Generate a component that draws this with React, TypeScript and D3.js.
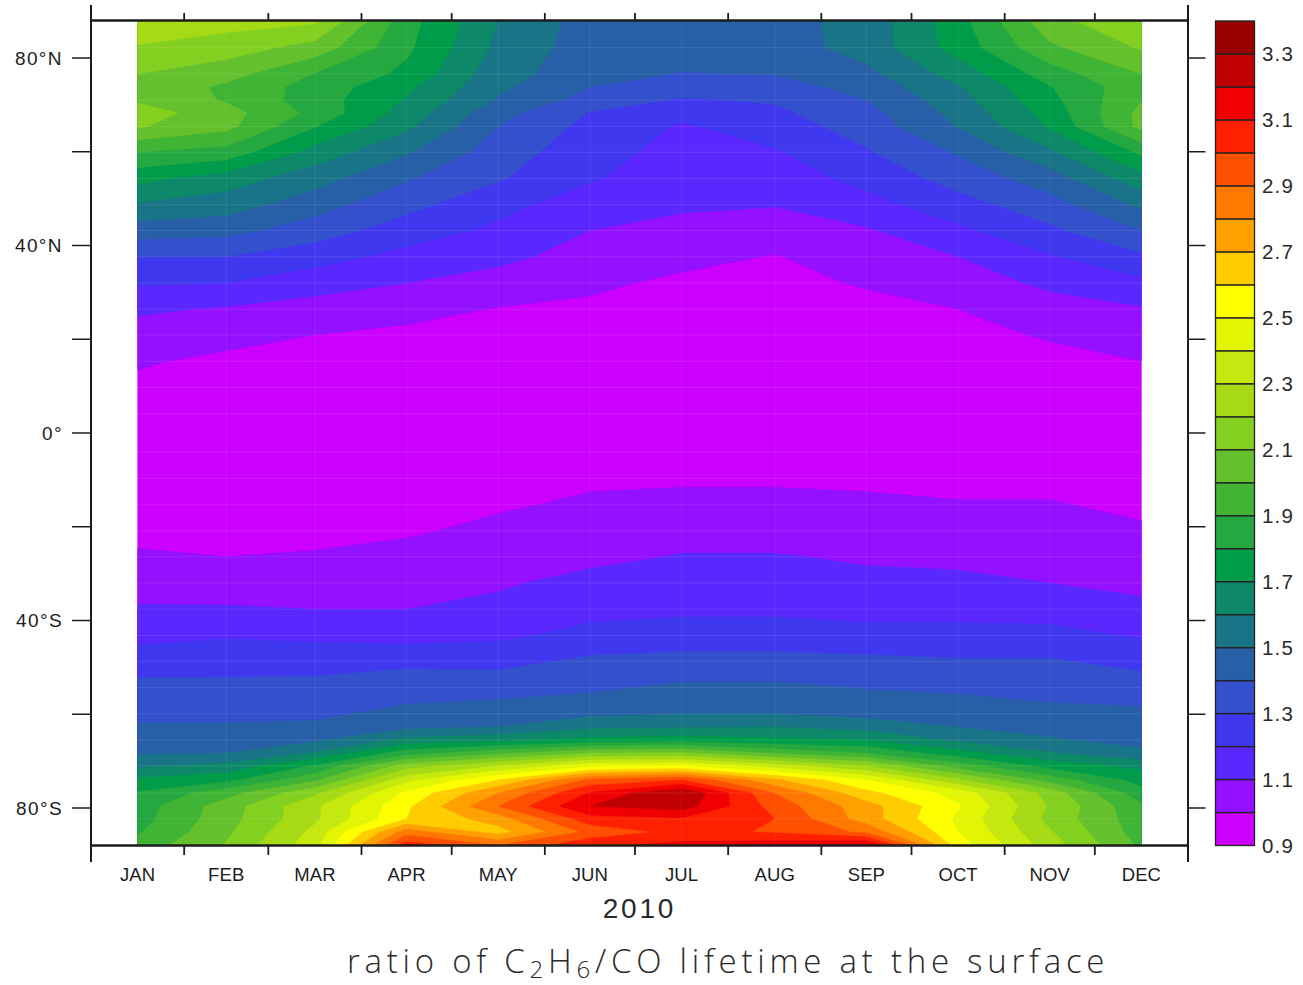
import React, { useMemo } from "react";
import * as d3 from "d3";

// Latitude rows of the model grid (degrees, north positive), top edge to bottom edge
const LATS = [88, 82.2, 76.6, 73.8, 71, 68.3, 65.4, 59.9, 54.3, 48.7, 43.2, 37.6, 32, 26.4, 20.9, 15.3, 9.7, 4.1,
  -4.1, -9.7, -15.3, -20.9, -26.4, -32, -37.6, -43.2, -48.7, -54.3, -59.9, -62.7, -65.5, -68.3, -71, -74, -76.8, -79.6, -82.3, -85.1, -88];
const GRID_LATS = [82.2, 76.6, 71, 65.4, 59.9, 54.3, 48.7, 43.2, 37.6, 32, 26.4, 20.9, 15.3, 9.7, 4.1,
  -4.1, -9.7, -15.3, -20.9, -26.4, -32, -37.6, -43.2, -48.7, -54.3, -59.9, -65.5, -71, -76.8, -82.3];

const JAN = [2.28,2.19,2.10,2.08,2.085,2.15,2.11,1.90,1.73,1.59,1.45,1.30,1.21,1.115,1.06,1.01,.98,.96,.93,.93,.95,.98,1.01,1.06,1.11,1.17,1.25,1.33,1.38,1.41,1.45,1.49,1.58,1.72,1.81,1.85,1.86,1.89,1.94];
const FEB = [2.24,2.15,2.04,1.98,1.99,2.04,2.03,1.86,1.65,1.55,1.43,1.30,1.20,1.09,1.03,.98,.96,.94,.92,.92,.94,.97,1.00,1.05,1.11,1.19,1.27,1.32,1.38,1.41,1.46,1.5,1.63,1.77,1.96,2.05,2.06,2.08,2.11];
const MAR = [2.22,2.06,1.895,1.86,1.85,1.87,1.805,1.66,1.54,1.44,1.35,1.24,1.14,1.06,1.0,.97,.95,.93,.92,.92,.94,.97,1.01,1.05,1.10,1.18,1.26,1.33,1.38,1.42,1.485,1.61,1.81,1.98,2.18,2.28,2.28,2.33,2.36];
const APR = [1.84,1.82,1.775,1.72,1.69,1.655,1.62,1.51,1.41,1.33,1.25,1.17,1.10,1.03,.98,.96,.94,.92,.91,.92,.94,.985,1.04,1.07,1.10,1.16,1.28,1.35,1.43,1.48,1.63,1.86,2.15,2.37,2.52,2.58,2.60,2.85,3.06];
const MAY = [1.60,1.575,1.54,1.52,1.49,1.435,1.40,1.35,1.31,1.23,1.18,1.125,1.06,.995,.96,.94,.93,.91,.90,.93,.985,1.03,1.06,1.09,1.12,1.18,1.27,1.36,1.45,1.5,1.67,1.98,2.3,2.6,2.8,2.9,2.75,2.66,2.9];
const JUN = [1.455,1.45,1.44,1.40,1.36,1.295,1.27,1.24,1.21,1.15,1.10,1.06,1.02,.98,.95,.93,.92,.90,.94,.98,1.02,1.05,1.08,1.125,1.17,1.23,1.32,1.38,1.48,1.58,1.73,2.1,2.47,2.92,3.11,3.2,3.06,2.93,3.08];
const JUL = [1.47,1.45,1.395,1.34,1.29,1.22,1.19,1.165,1.14,1.11,1.08,1.03,.98,.95,.91,.90,.90,.90,.95,.985,1.03,1.07,1.105,1.14,1.18,1.25,1.33,1.42,1.5,1.59,1.75,2.12,2.5,3.0,3.305,3.25,3.09,3.03,3.13];
const AUG = [1.465,1.45,1.405,1.36,1.31,1.28,1.25,1.19,1.15,1.105,1.05,.995,.97,.94,.92,.91,.90,.90,.94,.985,1.03,1.07,1.105,1.14,1.18,1.25,1.33,1.42,1.5,1.6,1.72,1.99,2.35,2.72,2.9,2.96,3.0,2.99,3.16];
const SEP = [1.535,1.54,1.475,1.435,1.40,1.37,1.345,1.29,1.23,1.165,1.09,1.05,1.01,.97,.95,.93,.91,.90,.94,.98,1.02,1.05,1.09,1.12,1.16,1.24,1.32,1.395,1.47,1.56,1.70,1.9,2.2,2.5,2.63,2.74,2.75,2.88,3.22];
const OCT = [1.76,1.74,1.64,1.59,1.56,1.53,1.505,1.41,1.34,1.26,1.18,1.10,1.05,1.0,.97,.95,.93,.91,.93,.96,1.01,1.04,1.08,1.12,1.17,1.23,1.31,1.38,1.46,1.5,1.58,1.74,1.95,2.22,2.46,2.51,2.48,2.5,2.55];
const NOV = [2.07,1.98,1.85,1.795,1.77,1.74,1.71,1.58,1.45,1.36,1.28,1.19,1.12,1.06,1.01,.97,.95,.93,.92,.96,1.01,1.04,1.07,1.10,1.16,1.23,1.31,1.36,1.43,1.47,1.51,1.61,1.76,1.96,2.16,2.19,2.17,2.21,2.25];
const DEC = [2.18,2.11,2.0,1.97,1.995,2.03,2.03,1.82,1.66,1.52,1.40,1.28,1.18,1.09,1.05,1.0,.97,.95,.93,.94,.97,1.02,1.06,1.08,1.12,1.19,1.27,1.35,1.42,1.45,1.47,1.52,1.67,1.76,1.84,1.92,1.94,1.95,1.98];

const MONTHS = [JAN, FEB, MAR, APR, MAY, JUN, JUL, AUG, SEP, OCT, NOV, DEC];
const MONTH_LABELS = ["JAN", "FEB", "MAR", "APR", "MAY", "JUN", "JUL", "AUG", "SEP", "OCT", "NOV", "DEC"];
const MID_DAYS = [15.5, 45, 74.5, 105, 135.5, 166, 196.5, 227.5, 258, 288.5, 319, 349.5];
const MONTH_STARTS = [31, 59, 90, 120, 151, 181, 212, 243, 273, 304, 334];

const LEVELS = [1.0,1.1,1.2,1.3,1.4,1.5,1.6,1.7,1.8,1.9,2.0,2.1,2.2,2.3,2.4,2.5,2.6,2.7,2.8,2.9,3.0,3.1,3.2,3.3];
const COLORS = ["#cc00ff","#9410ff","#5a28ff","#4038ee","#3450cc","#2860a8","#1a7488","#0d8868","#009c4a","#25a840","#40b435","#65c02e","#84d020","#a5da14","#c5e80e","#e2f604","#ffff00","#ffcc00","#ffa000","#ff7800","#ff5000","#ff2000","#f00000","#c00000","#990000"];
const BAR_LABELS = ["0.9","1.1","1.3","1.5","1.7","1.9","2.1","2.3","2.5","2.7","2.9","3.1","3.3"];
const BAR_VALUES = [0.9,1.1,1.3,1.5,1.7,1.9,2.1,2.3,2.5,2.7,2.9,3.1,3.3];
const LAT_TICKS = [80, 60, 40, 20, 0, -20, -40, -60, -80];
const LAT_LABELS = new Map([[80, "80°N"], [40, "40°N"], [0, "0°"], [-40, "40°S"], [-80, "80°S"]]);

const FONT = "'Liberation Sans', sans-serif";
const INK = "#1c1c1c";

export default function App() {
  const L = 91, R = 1188, T = 20.5, B = 845.5;
  const x = d3.scaleLinear().domain([0, 365]).range([L, R]);
  const y = d3.scaleLinear().domain([88, -88]).range([T, B]);

  const paths = useMemo(() => {
    const dx = MONTHS.length, dy = LATS.length;
    const values: number[] = [];
    for (let j = 0; j < dy; j++) for (let i = 0; i < dx; i++) values.push(MONTHS[i][j]);
    const gx = d3.scaleLinear().domain(MID_DAYS.map((_, i) => i + 0.5)).range(MID_DAYS.map((d) => x(d))).clamp(true);
    const gy = d3.scaleLinear().domain(LATS.map((_, i) => i + 0.5)).range(LATS.map((d) => y(d))).clamp(true);
    const proj = d3.geoTransform({
      point(px: number, py: number) {
        (this as any).stream.point(gx(px), gy(py));
      },
    });
    const path = d3.geoPath(proj as any);
    const gen = d3.contours().size([dx, dy]).thresholds([-1, ...LEVELS]);
    return gen(values).map((c, i) => ({ d: path(c as any) || "", fill: COLORS[i] }));
  }, []);

  // colour bar
  const barTop = 21, barBot = 845.5, barL = 1215.5, barR = 1254.5;
  const bar = d3.scaleLinear().domain([0.9, 3.4]).range([barBot, barTop]);
  const barEdges = [0.9, ...LEVELS, 3.4];

  return (
    <svg width={1303} height={985} style={{ position: "absolute", left: 0, top: 0, display: "block", background: "#fff" }}>
      <g>
        {paths.map((p, i) => (
          <path key={i} d={p.d} fill={p.fill} stroke={p.fill} strokeWidth={0.4} />
        ))}
      </g>
      {/* faint grid artefacts */}
      <g stroke="#fff" strokeOpacity={0.1} strokeWidth={1}>
        {GRID_LATS.map((d) => (
          <line key={d} x1={x(MID_DAYS[0])} x2={x(MID_DAYS[11])} y1={y(d)} y2={y(d)} />
        ))}
        {MID_DAYS.slice(1, 11).map((d) => (
          <line key={d} x1={x(d)} x2={x(d)} y1={T} y2={B} strokeOpacity={0.07} />
        ))}
      </g>

      {/* frame and ticks */}
      <g stroke={INK} fill="none">
        <line x1={L - 1} x2={R + 1} y1={T} y2={T} strokeWidth={2.4} />
        <line x1={L - 1} x2={R + 1} y1={B} y2={B} strokeWidth={2.4} />
        <line x1={L} x2={L} y1={5} y2={862} strokeWidth={2} />
        <line x1={R} x2={R} y1={5} y2={862} strokeWidth={2} />
        {MONTH_STARTS.map((d) => (
          <g key={d} strokeWidth={1.8}>
            <line x1={x(d)} x2={x(d)} y1={T} y2={13} />
            <line x1={x(d)} x2={x(d)} y1={B} y2={855} />
          </g>
        ))}
        {LAT_TICKS.map((d) => (
          <g key={d} strokeWidth={1.5}>
            <line x1={72} x2={L} y1={y(d)} y2={y(d)} />
            <line x1={R} x2={1205.5} y1={y(d)} y2={y(d)} />
          </g>
        ))}
      </g>

      {/* axis labels */}
      <g fontFamily={FONT} fill={INK} fontSize={18.5} textAnchor="middle" style={{ letterSpacing: "0.1px" }}>
        {MID_DAYS.map((d, i) => (
          <text key={d} x={x(d)} y={881}>{MONTH_LABELS[i]}</text>
        ))}
      </g>
      <g fontFamily={FONT} fill={INK} fontSize={19} textAnchor="end" style={{ letterSpacing: "1.4px" }}>
        {LAT_TICKS.filter((d) => LAT_LABELS.has(d)).map((d) => (
          <text key={d} x={63} y={y(d) + 6.5}>{LAT_LABELS.get(d)}</text>
        ))}
      </g>
      <text x={639.5} y={918} fontFamily={FONT} fontSize={28} fill="#2a2a2a" textAnchor="middle" style={{ letterSpacing: "2.8px" }}>2010</text>
      <text x={347} y={973} fontFamily="'Open Sans', 'Liberation Sans', sans-serif" fontWeight={300} fontSize={33} fill="#2a2a2a" style={{ letterSpacing: "4.75px" }}>
        <tspan>ratio of C</tspan>
        <tspan fontSize={24} dy={5}>2</tspan>
        <tspan dy={-5}>H</tspan>
        <tspan fontSize={24} dy={5}>6</tspan>
        <tspan dy={-5}>/CO lifetime at the surface</tspan>
      </text>

      {/* colour bar */}
      <g>
        {COLORS.map((c, i) => (
          <rect key={i} x={barL} width={barR - barL} y={bar(barEdges[i + 1])} height={bar(barEdges[i]) - bar(barEdges[i + 1])} fill={c} stroke="#222" strokeWidth={1.3} />
        ))}
      </g>
      <g fontFamily={FONT} fontSize={20.5} fill="#2a2a2a" style={{ letterSpacing: "1.2px" }}>
        {BAR_VALUES.map((v, i) => (
          <text key={v} x={1262} y={bar(v) + 7}>{BAR_LABELS[i]}</text>
        ))}
      </g>
    </svg>
  );
}
